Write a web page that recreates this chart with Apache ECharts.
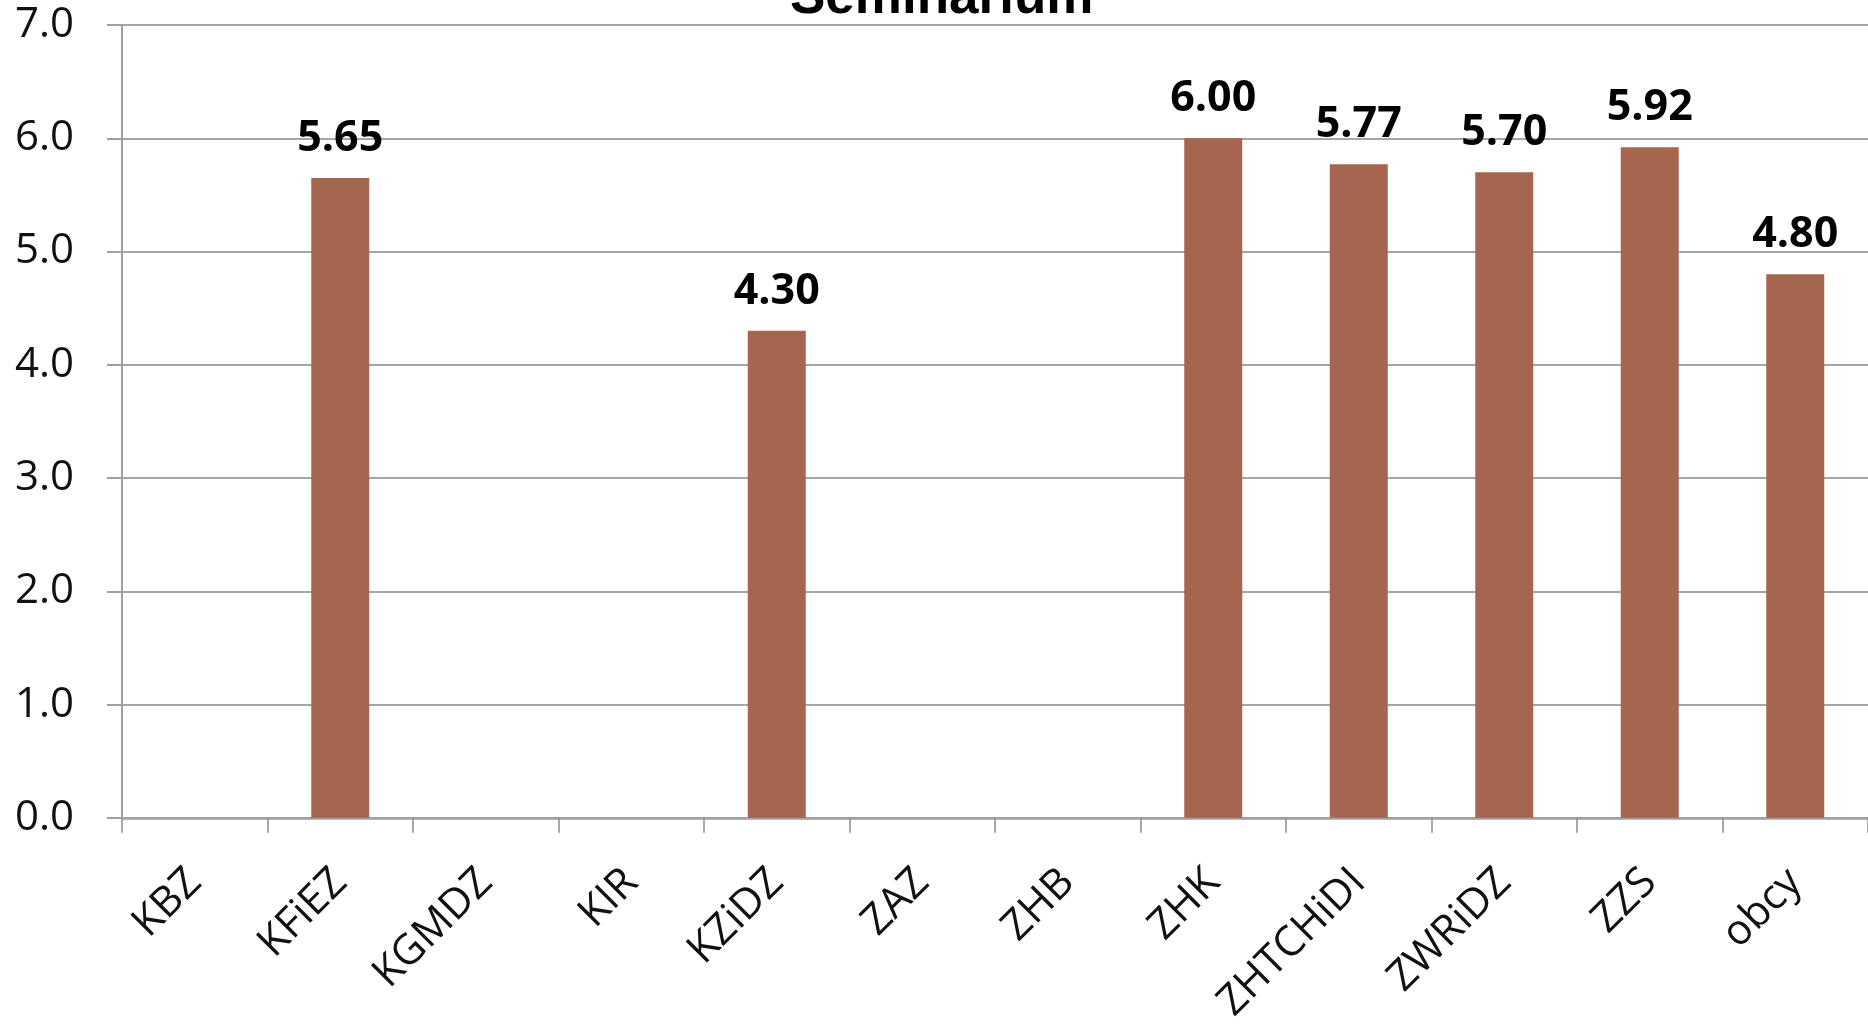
<!DOCTYPE html>
<html>
<head>
<meta charset="utf-8">
<title>Seminarium</title>
<script src="https://cdn.jsdelivr.net/npm/echarts@6/dist/echarts.min.js"></script>
<style>
  html, body { margin: 0; padding: 0; background: #fff; }
  #chart { width: 1868px; height: 1026px; }
</style>
</head>
<body>
<div id="chart"></div>
<script>
// dane wykresu
var categories = ['KBZ', 'KFiEZ', 'KGMDZ', 'KIR', 'KZiDZ', 'ZAZ', 'ZHB', 'ZHK', 'ZHTCHiDI', 'ZWRiDZ', 'ZZS', 'obcy'];
var values = ['-', 5.65, '-', '-', 4.30, '-', '-', 6.00, 5.77, 5.70, 5.92, 4.80];
var yMin = 0, yMax = 7, yStep = 1;

(function(){
  var myChart = echarts.init(document.getElementById('chart'));

  var option = {
    animation: false,
    title: {
      text: 'Seminarium',
      left: 785,
      top: -33,
      textStyle: {
        fontFamily: 'Liberation Sans',
        fontWeight: 'bold',
        fontSize: 53,
        color: '#000'
      }
    },
    // wykres wychodzi poza prawa krawedz, jak w oryginale
    grid: {
      left: 122,
      width: 1754,
      top: 25,
      height: 797,
      containLabel: false
    },
    xAxis: {
      type: 'category',
      data: categories,
      boundaryGap: true,
      axisLine: { lineStyle: { color: '#a0a0a0', width: 2.5 } },
      axisTick: {
        show: true,
        alignWithLabel: false,
        length: 15,
        lineStyle: { color: '#8c8c8c', width: 1.5 }
      },
      axisLabel: {
        interval: 0,
        rotate: 45,
        margin: 58,
        fontFamily: 'Open Sans',
        fontSize: 42,
        color: '#111'
      }
    },
    yAxis: {
      type: 'value',
      min: yMin,
      max: yMax,
      interval: yStep,
      axisLine: { show: true, lineStyle: { color: '#a0a0a0', width: 2 } },
      axisTick: { show: true, length: 15, lineStyle: { color: '#a0a0a0', width: 2 } },
      splitLine: { lineStyle: { color: '#a6a6a6', width: 2 } },
      axisLabel: {
        margin: 48,
        fontFamily: 'Open Sans',
        fontSize: 42,
        color: '#111',
        formatter: function(v){ return v.toFixed(1); }
      }
    },
    series: [{
      type: 'bar',
      data: values,
      barWidth: 58,
      itemStyle: { color: '#a5654e' },
      label: {
        show: true,
        position: 'top',
        distance: 18,
        fontFamily: 'Open Sans',
        fontWeight: 'bold',
        fontSize: 43,
        color: '#000',
        formatter: function(p){ return p.value.toFixed(2); }
      }
    }]
  };

  myChart.setOption(option);
  window.addEventListener('resize', function(){
    myChart.resize();
  });
})();
</script>
</body>
</html>
